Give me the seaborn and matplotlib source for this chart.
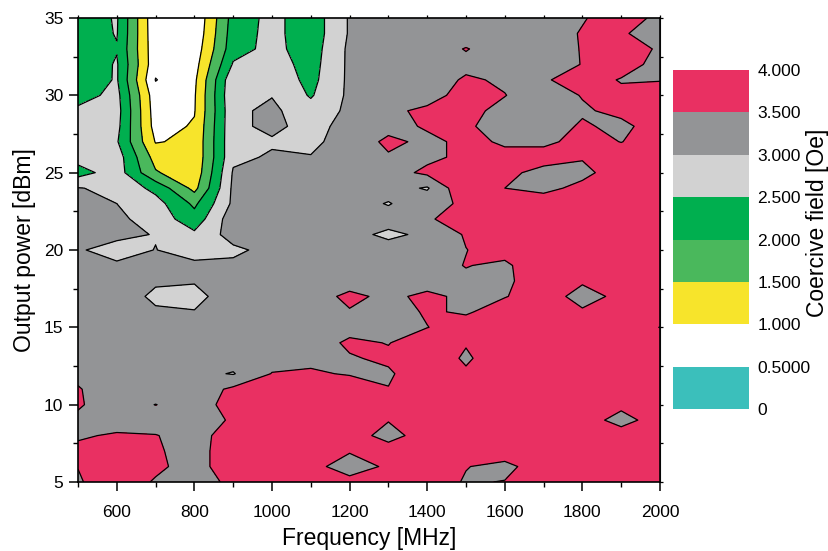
import numpy as np
import matplotlib
matplotlib.use("Agg")
import matplotlib.pyplot as plt
import seaborn as sns
from matplotlib.ticker import MultipleLocator

sns.set_style("ticks")
plt.rcParams['font.family'] = ['Liberation Sans', 'DejaVu Sans']
plt.rcParams['text.color'] = 'black'
plt.rcParams['axes.labelcolor'] = 'black'
plt.rcParams['xtick.color'] = 'black'
plt.rcParams['ytick.color'] = 'black'

# grid of the measurement
freq = [500, 600, 700, 800, 900, 1000, 1100, 1200, 1300, 1400, 1500, 1600, 1700, 1800, 1900, 2000]
power = [35, 34, 33, 32, 31, 30, 29, 28, 27, 26, 25, 24, 23, 22, 21, 20,
         19, 18, 17, 16, 15, 14, 13, 12, 11, 10, 9, 8, 7, 6, 5]

# coercive field [Oe], one list per output power row (freq 500 -> 2000)
hc_35 = [2.2, 2.55, 0.6, 0.55, 2.2, 2.65, 2.2, 3.05, 3.2, 3.25, 3.3, 3.3, 3.3, 3.47, 3.7, 3.4]
hc_34 = [2.2, 2.53, 0.62, 0.6, 2.25, 2.65, 2.2, 3.05, 3.2, 3.25, 3.3, 3.3, 3.3, 3.53, 3.55, 3.3]
hc_33 = [2.2, 2.47, 0.65, 0.7, 2.3, 2.65, 2.25, 3.1, 3.25, 3.3, 3.52, 3.3, 3.3, 3.52, 3.7, 3.45]
hc_32 = [2.1, 2.55, 0.65, 0.8, 2.55, 2.75, 2.3, 3.1, 3.25, 3.3, 3.4, 3.3, 3.35, 3.51, 3.7, 3.35]
hc_31 = [2.15, 2.55, 0.48, 0.9, 2.9, 2.85, 2.35, 3.1, 3.3, 3.3, 3.55, 3.45, 3.45, 3.7, 3.47, 3.48]
hc_30 = [2.3, 2.65, 0.7, 0.95, 2.95, 2.98, 2.45, 3.1, 3.3, 3.4, 3.6, 3.51, 3.3, 3.52, 3.6, 3.7]
hc_29 = [2.6, 2.7, 0.75, 0.97, 2.9, 3.1, 2.7, 3.1, 3.45, 3.55, 3.6, 3.4, 3.3, 3.45, 3.6, 3.7]
hc_28 = [2.7, 2.65, 0.8, 1.05, 2.9, 3.1, 2.85, 3.15, 3.35, 3.55, 3.55, 3.35, 3.3, 3.55, 3.4, 3.7]
hc_27 = [2.75, 2.55, 0.97, 1.1, 2.9, 2.95, 2.9, 3.2, 3.6, 3.4, 3.6, 3.45, 3.4, 3.65, 3.49, 3.7]
hc_26 = [2.7, 2.75, 1.3, 1.1, 2.9, 3.05, 3.02, 3.2, 3.45, 3.4, 3.6, 3.6, 3.7, 3.53, 3.7, 3.8]
hc_25 = [2.3, 2.75, 1.55, 1.15, 3.05, 3.2, 3.2, 3.2, 3.3, 3.6, 3.7, 3.62, 3.35, 3.4, 3.7, 3.8]
hc_24 = [3.02, 2.9, 2.35, 1.35, 3.1, 3.2, 3.2, 3.2, 3.2, 2.95, 3.95, 3.5, 3.4, 3.6, 3.8, 3.8]
hc_23 = [3.3, 3.0, 2.7, 1.9, 3.1, 3.2, 3.2, 3.2, 2.97, 3.3, 3.6, 3.8, 3.7, 3.8, 3.8, 3.8]
hc_22 = [3.3, 3.1, 2.8, 2.2, 3.3, 3.2, 3.2, 3.2, 3.2, 3.45, 3.7, 3.8, 3.8, 3.8, 3.8, 3.8]
hc_21 = [3.2, 3.1, 2.98, 2.6, 3.2, 3.2, 3.2, 3.15, 2.9, 3.1, 3.55, 3.8, 3.8, 3.8, 3.8, 3.8]
hc_20 = [3.04, 2.85, 3.01, 2.8, 2.9, 3.15, 3.2, 3.2, 3.2, 3.3, 3.49, 3.7, 3.8, 3.8, 3.8, 3.8]
hc_19 = [3.2, 3.06, 3.2, 3.1, 3.1, 3.2, 3.2, 3.2, 3.3, 3.3, 3.52, 3.4, 3.9, 3.8, 3.8, 3.8]
hc_18 = [3.2, 3.2, 3.1, 3.05, 3.2, 3.2, 3.2, 3.3, 3.3, 3.3, 3.4, 3.35, 3.95, 3.55, 3.8, 3.8]
hc_17 = [3.2, 3.4, 2.85, 2.8, 3.36, 3.2, 3.3, 3.6, 3.4, 3.6, 3.4, 3.48, 3.7, 3.35, 3.6, 3.8]
hc_16 = [3.2, 3.2, 3.1, 3.03, 3.2, 3.2, 3.2, 3.47, 3.3, 3.55, 3.45, 3.7, 3.8, 3.55, 3.8, 3.8]
hc_15 = [3.2, 3.2, 3.2, 3.2, 3.2, 3.2, 3.2, 3.3, 3.3, 3.49, 3.7, 3.8, 3.8, 3.8, 3.8, 3.49]
hc_14 = [3.2, 3.2, 3.2, 3.2, 3.2, 3.2, 3.2, 3.6, 3.48, 3.8, 3.55, 3.8, 3.8, 3.8, 3.8, 3.8]
hc_13 = [3.3, 3.2, 3.2, 3.2, 3.2, 3.3, 3.35, 3.45, 3.6, 3.95, 3.4, 3.95, 3.8, 3.8, 3.8, 3.8]
hc_12 = [3.4, 3.2, 3.2, 3.13, 2.97, 3.52, 3.58, 3.45, 3.42, 3.9, 3.6, 3.8, 3.8, 3.8, 3.8, 3.8]
hc_11 = [3.53, 3.25, 3.2, 3.2, 3.6, 3.7, 3.8, 3.9, 3.52, 3.8, 3.8, 3.8, 3.8, 3.8, 3.8, 3.8]
hc_10 = [3.55, 3.25, 3.51, 3.25, 3.7, 3.8, 3.8, 3.8, 3.8, 3.8, 3.8, 3.8, 3.8, 3.8, 3.6, 3.8]
hc_9 = [3.41, 3.3, 3.25, 3.3, 3.55, 3.8, 3.8, 3.8, 3.52, 3.8, 3.8, 3.8, 3.8, 3.7, 3.35, 3.7]
hc_8 = [3.45, 3.55, 3.52, 3.3, 3.75, 3.8, 3.8, 3.7, 3.35, 3.7, 3.8, 3.8, 3.8, 3.8, 3.7, 3.8]
hc_7 = [3.6, 3.7, 3.56, 3.3, 3.8, 3.8, 3.8, 3.55, 3.7, 3.8, 3.8, 3.8, 3.8, 3.8, 3.8, 3.8]
hc_6 = [3.51, 3.75, 3.6, 3.3, 3.8, 3.8, 3.7, 3.2, 3.6, 3.8, 3.52, 3.35, 3.8, 3.8, 3.8, 3.8]
hc_5 = [3.45, 3.8, 3.45, 3.3, 3.6, 3.8, 3.8, 3.7, 3.8, 3.8, 3.45, 3.52, 3.8, 3.8, 3.8, 3.8]

levels = [0, 0.5, 1.0, 1.5, 2.0, 2.5, 3.0, 3.5, 4.0]
level_labels = ['0', '0.5000', '1.000', '1.500', '2.000', '2.500', '3.000', '3.500', '4.000']
band_colors = ['#3bbfbb', '#ffffff', '#f7e42b', '#4ab85c', '#00af4f',
               '#d2d2d2', '#939496', '#e93062']

rows = [hc_35, hc_34, hc_33, hc_32, hc_31, hc_30, hc_29, hc_28, hc_27, hc_26,
        hc_25, hc_24, hc_23, hc_22, hc_21, hc_20, hc_19, hc_18, hc_17, hc_16,
        hc_15, hc_14, hc_13, hc_12, hc_11, hc_10, hc_9, hc_8, hc_7, hc_6, hc_5]
Z = np.array(rows)[::-1]
P = np.array(power)[::-1]

fig = plt.figure(figsize=(8.29, 5.51), dpi=100)
ax = fig.add_axes([78 / 829, 69 / 551, 582 / 829, 464 / 551])

cf = ax.contourf(freq, P, Z, levels=levels, colors=band_colors)
ax.contour(freq, P, Z, levels=levels[1:-1], colors='k', linewidths=0.9)

ax.set_xlim(500, 2000)
ax.set_ylim(5, 35)
ax.xaxis.set_major_locator(MultipleLocator(200))
ax.xaxis.set_minor_locator(MultipleLocator(100))
ax.yaxis.set_major_locator(MultipleLocator(5))
ax.yaxis.set_minor_locator(MultipleLocator(2.5))
ax.tick_params(which='major', direction='out', length=6.5, width=1.1, labelsize=12.5)
ax.tick_params(which='minor', direction='out', length=3.5, width=1.0)
ax.tick_params(axis='x', which='major', pad=10)
ax.tick_params(axis='y', which='major', pad=4)
for s in ax.spines.values():
    s.set_linewidth(1.2)
    s.set_color('black')
ax.set_xlabel('Frequency [MHz]', fontsize=16.5, labelpad=5)
ax.set_ylabel('Output power [dBm]', fontsize=16.5, labelpad=6)

# short mirror ticks on top and right
top = ax.secondary_xaxis('top')
top.xaxis.set_major_locator(MultipleLocator(100))
top.tick_params(direction='out', length=2.5, width=0.9, labeltop=False)
right = ax.secondary_yaxis('right')
right.yaxis.set_major_locator(MultipleLocator(2.5))
right.tick_params(direction='out', length=2.5, width=0.9, labelright=False)

cax = fig.add_axes([673 / 829, 142 / 551, 76 / 829, 339 / 551])
cbar = fig.colorbar(cf, cax=cax, ticks=levels)
cbar.ax.set_yticklabels(level_labels)
cbar.outline.set_visible(False)
cbar.ax.tick_params(length=0, pad=6, labelsize=12.5)
fig.text(818 / 829, 1 - 223 / 551, 'Coercive field [Oe]', rotation=90,
         ha='center', va='center', fontsize=16.5)

fig.savefig('out.png', dpi=100)
